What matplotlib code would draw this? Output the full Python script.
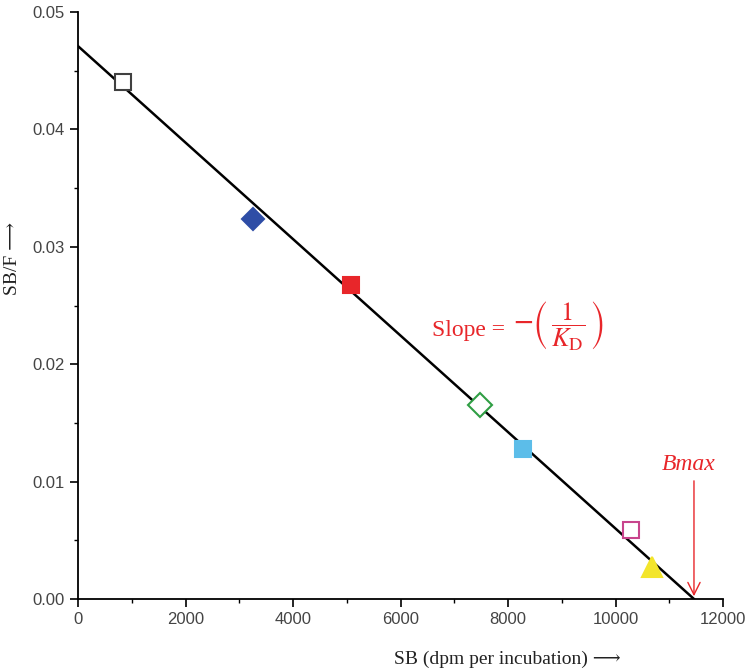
import numpy as np
import matplotlib.pyplot as plt
from matplotlib.ticker import MultipleLocator

# measured points (SB, SB/F)
sb = [843, 3256, 5073, 7479, 8273, 10282, 10673]
sbf = [0.0440, 0.0324, 0.02675, 0.0165, 0.0128, 0.0059, 0.0027]
markers = ['s', 'D', 's', 'D', 's', 's', '^']
faces = ['white', '#2e4da6', '#e8262a', 'white', '#5cbde9', 'white', '#f3e52b']
edges = ['#404040', '#2e4da6', '#e8262a', '#2f9e44', '#5cbde9', '#c8448c', '#f3e52b']
sizes = [11, 11, 11, 12, 11, 11, 15]

# fitted line end points
fit_x = [0, 11460]
fit_y = [0.0471, 0.0]
bmax = 11460

plt.rcParams['mathtext.fontset'] = 'stix'
fig = plt.figure(figsize=(7.5, 6.7), dpi=100)
ax = fig.add_axes([0.104, 0.106, 0.86, 0.876])

ax.plot(fit_x, fit_y, color='black', lw=1.8, zorder=2)
for i in range(len(sb)):
    ax.plot(sb[i], sbf[i], marker=markers[i], ms=sizes[i], mfc=faces[i],
            mec=edges[i], mew=1.5, ls='none', zorder=3)

# Bmax arrow
ax.annotate('', xy=(bmax, 0.0), xytext=(bmax, 0.0103),
            arrowprops=dict(arrowstyle='->', color='#e8262a', lw=1.0,
                            mutation_scale=22), zorder=4)
ax.text(bmax - 100, 0.0106, 'Bmax', color='#e8262a', fontsize=17,
        fontstyle='italic', family='Liberation Serif', ha='center', va='bottom')

# slope label
ax.text(7950, 0.0229, 'Slope =', color='#e8262a', fontsize=17,
        family='Liberation Serif', ha='right', va='center')
ax.text(8100, 0.0233, r'$\mathbf{-}\left(\,\dfrac{1}{K_{\mathrm{D}}}\,\right)$',
        color='#e8262a', fontsize=19, ha='left', va='center')

ax.set_xlim(0, 12000)
ax.set_ylim(0, 0.05)
ax.xaxis.set_major_locator(MultipleLocator(2000))
ax.xaxis.set_minor_locator(MultipleLocator(1000))
ax.yaxis.set_major_locator(MultipleLocator(0.01))
ax.yaxis.set_minor_locator(MultipleLocator(0.005))
ax.yaxis.set_major_formatter(plt.FuncFormatter(lambda v, p: '%.2f' % v))
ax.tick_params(which='major', direction='out', length=6, width=1.2,
               labelsize=12, labelcolor='#444444')
ax.tick_params(which='minor', direction='out', length=3, width=1.0)
for lab in ax.get_xticklabels() + ax.get_yticklabels():
    lab.set_family('Liberation Sans')

ax.spines['top'].set_visible(False)
ax.spines['right'].set_visible(False)
ax.spines['left'].set_linewidth(1.3)
ax.spines['bottom'].set_linewidth(1.3)

ax.set_xlabel('SB (dpm per incubation) \u27f6', fontsize=14,
              family=['Liberation Serif', 'DejaVu Serif'], color='#222222')
ax.xaxis.set_label_coords(0.665, -0.088)
ax.set_ylabel('SB/F \u27f6', fontsize=14,
              family=['Liberation Serif', 'DejaVu Serif'], color='#222222')
ax.yaxis.set_label_coords(-0.088, 0.58)

fig.savefig('out.png', dpi=100)
